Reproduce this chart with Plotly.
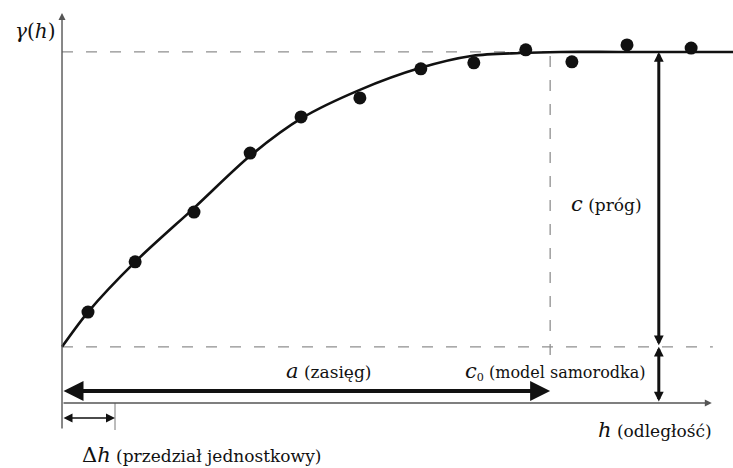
import plotly.graph_objects as go

# --- data ---
lag_h = [0.49, 1.38, 2.49, 3.55, 4.51, 5.62, 6.77, 7.77, 8.75, 9.62, 10.66, 11.87]
gamma_obs = [2.59, 4.02, 5.44, 7.12, 8.15, 8.69, 9.52, 9.69, 10.06, 9.72, 10.20, 10.11]

model_h = [0.0, 0.49, 1.38, 2.51, 3.55, 4.53, 5.62, 6.75, 7.75, 8.64, 9.40, 10.5, 12.7]
model_gamma = [1.60, 2.59, 4.02, 5.58, 7.04, 8.12, 8.92, 9.54, 9.89, 9.97, 10.0, 10.0, 10.0]

nugget_c0 = 1.6
sill = 10.0
range_a = 9.21
delta_h = 1.0
c_arrow_h = 11.26

X_RANGE = [-1.17, 12.66]
Y_RANGE = [-1.852, 11.48]

serif = "DejaVu Serif"
ink = "#111111"
grey = "#8f8f8f"
dash = "11px,13px"

fig = go.Figure()

fig.add_trace(go.Scatter(x=model_h, y=model_gamma, mode="lines",
                         line=dict(color=ink, width=2.6, shape="spline", smoothing=0.8),
                         hoverinfo="skip", showlegend=False))
fig.add_trace(go.Scatter(x=lag_h, y=gamma_obs, mode="markers",
                         marker=dict(color=ink, size=13), showlegend=False))

shapes = [
    dict(type="line", x0=0, x1=X_RANGE[1], y0=sill, y1=sill, xref="x", yref="y",
         line=dict(color=grey, width=1.3, dash=dash), layer="below"),
    dict(type="line", x0=0, x1=12.28, y0=nugget_c0, y1=nugget_c0, xref="x", yref="y",
         line=dict(color=grey, width=1.3, dash=dash), layer="below"),
    dict(type="line", x0=range_a, x1=range_a, y0=1.37, y1=sill, xref="x", yref="y",
         line=dict(color=grey, width=1.3, dash=dash), layer="below"),
    dict(type="line", x0=delta_h, x1=delta_h, y0=0, y1=-0.77, xref="x", yref="y",
         line=dict(color=grey, width=1.2)),
]


def arrow(x, y, ax, ay, width, color, size, both=True, head=2):
    return dict(x=x, y=y, ax=ax, ay=ay, xref="x", yref="y", axref="x", ayref="y",
                text="", showarrow=True, arrowhead=head, startarrowhead=head,
                arrowsize=size, startarrowsize=size, arrowwidth=width,
                arrowcolor=color, arrowside="end+start" if both else "end",
                font=dict(size=10))


annotations = [
    arrow(0, 11.11, 0, -0.77, 1.4, "#555555", 1.0, both=False, head=2),
    arrow(12.26, 0, 0, 0, 1.4, "#555555", 1.0, both=False, head=2),
    arrow(range_a, 0.34, 0, 0.34, 4, ink, 1.0),
    arrow(c_arrow_h, sill, c_arrow_h, nugget_c0, 3, ink, 0.65),
    arrow(c_arrow_h, nugget_c0, c_arrow_h, 0, 3, ink, 0.65),
    arrow(delta_h, -0.43, 0, -0.43, 1.5, ink, 1.2),
]

texts = [
    (-0.51, 10.6, "<i>γ</i>(<i>h</i>)", 20),
    (5.03, 0.91, "<i><span style='font-size:21px'>a</span></i> (zasięg)", 17),
    (9.32, 0.91, "<i><span style='font-size:21px'>c</span></i><sub>0</sub> (model samorodka)", 16),
    (10.28, 5.67, "<i><span style='font-size:21px'>c</span></i> (próg)", 17),
    (11.19, -0.77, "<i><span style='font-size:21px'>h</span></i> (odległość)", 17),
    (2.64, -1.48, "<span style='font-size:21px'>Δ<i>h</i></span> (przedział jednostkowy)", 17),
]
for x, y, t, s in texts:
    annotations.append(dict(x=x, y=y, xref="x", yref="y", text=t, showarrow=False,
                            font=dict(family=serif, size=s, color=ink)))

fig.update_layout(
    width=733, height=468, autosize=False,
    margin=dict(l=0, r=0, t=0, b=0),
    paper_bgcolor="white", plot_bgcolor="white",
    font=dict(family=serif),
    xaxis=dict(range=X_RANGE, visible=False, fixedrange=True),
    yaxis=dict(range=Y_RANGE, visible=False, fixedrange=True),
    shapes=shapes, annotations=annotations,
)

fig.write_html("out.html", config=dict(displayModeBar=False, staticPlot=True),
               post_script="document.body.style.margin='0px';document.body.style.overflow='hidden';")
